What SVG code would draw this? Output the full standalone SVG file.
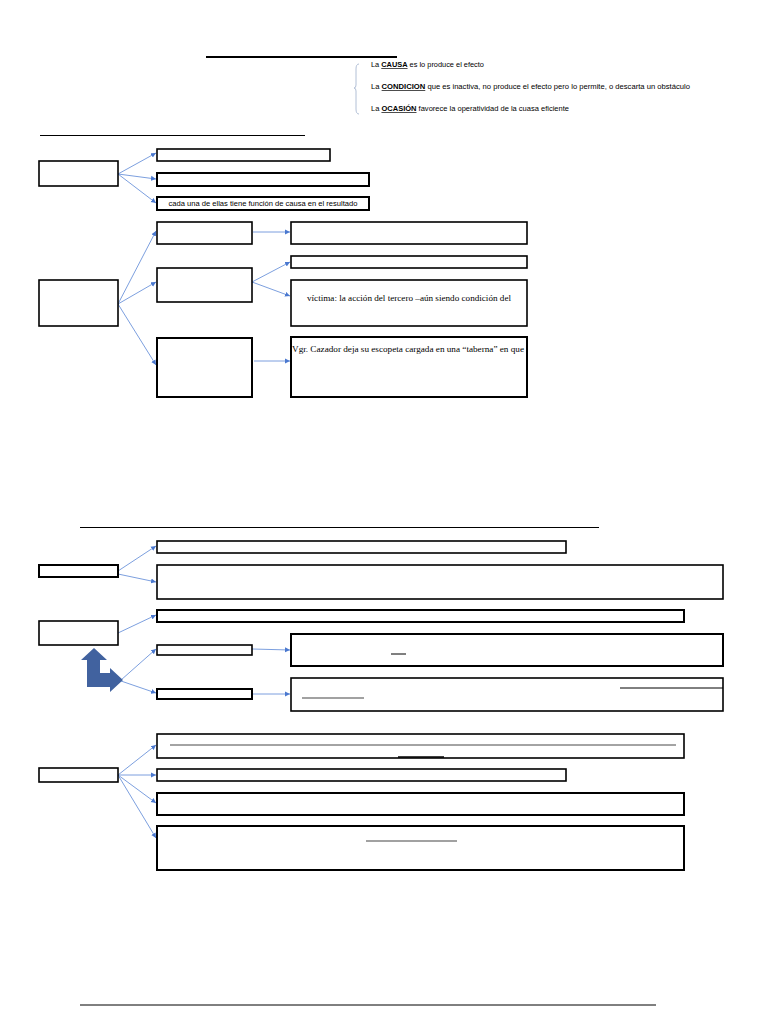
<svg xmlns="http://www.w3.org/2000/svg" width="768" height="1024" viewBox="0 0 768 1024">
<style>
.bx{fill:#fff;stroke:#000;stroke-width:1.6}
.bk{fill:#fff;stroke:#000;stroke-width:2}
.rule{stroke:#000;stroke-width:1}
.cn{stroke:#5b87d6;stroke-width:0.8;fill:none;marker-end:url(#ah)}
.sm{font-family:"Liberation Sans",Arial,sans-serif;font-size:7px;fill:#000}
.sf{font-family:"Liberation Serif","Times New Roman",serif;font-size:9px;fill:#000}
.u{font-weight:bold;text-decoration:underline}
</style>
<defs>
<marker id="ah" markerWidth="6" markerHeight="6" refX="5" refY="3" orient="auto" markerUnits="userSpaceOnUse">
<path d="M0,0.5 L5,3 L0,5.5 Z" fill="#4a78cf"/>
</marker>
</defs>
<rect width="768" height="1024" fill="#fff"/>

<g id="header">
<line x1="206" y1="57" x2="397" y2="57" stroke="#000" stroke-width="2"/>
<path d="M359,64 Q356,64 356,69 L356,85 Q356,88 354,88 Q356,88 356,91 L356,109 Q356,114 359,114" fill="none" stroke="#9fb0cc" stroke-width="0.8"/>
<text class="sm" x="371" y="67" textLength="113" lengthAdjust="spacingAndGlyphs">La <tspan class="u">CAUSA</tspan> es lo produce el efecto</text>
<text class="sm" x="371" y="89" textLength="319" lengthAdjust="spacingAndGlyphs">La <tspan class="u">CONDICION</tspan> que es inactiva, no produce el efecto pero lo permite, o descarta un obstáculo</text>
<text class="sm" x="371" y="111" textLength="198" lengthAdjust="spacingAndGlyphs">La <tspan class="u">OCASIÓN</tspan> favorece la operatividad de la cuasa eficiente</text>
</g>

<line class="rule" x1="40" y1="135.5" x2="305" y2="135.5"/>
<line class="rule" x1="80" y1="527.5" x2="599" y2="527.5"/>
<line class="rule" x1="80" y1="1005" x2="656" y2="1005" stroke-width="2"/>

<g id="connectors">
<line class="cn" x1="118" y1="174" x2="156" y2="153"/>
<line class="cn" x1="118" y1="174" x2="156" y2="179"/>
<line class="cn" x1="118" y1="174" x2="156" y2="203"/>

<line class="cn" x1="118" y1="304" x2="156" y2="231"/>
<line class="cn" x1="118" y1="304" x2="156" y2="282"/>
<line class="cn" x1="118" y1="304" x2="156" y2="365"/>
<line class="cn" x1="253" y1="232" x2="290" y2="232"/>
<line class="cn" x1="252" y1="282" x2="290" y2="262"/>
<line class="cn" x1="252" y1="282" x2="290" y2="296"/>
<line class="cn" x1="254" y1="361" x2="290" y2="361"/>

<line class="cn" x1="118" y1="571" x2="156" y2="546"/>
<line class="cn" x1="118" y1="574" x2="156" y2="582"/>
<line class="cn" x1="118" y1="633" x2="156" y2="615"/>
<line class="cn" x1="121" y1="680" x2="156" y2="649"/>
<line class="cn" x1="121" y1="681" x2="156" y2="693"/>
<line class="cn" x1="252" y1="649" x2="290" y2="650"/>
<line class="cn" x1="252" y1="694" x2="290" y2="694"/>

<line class="cn" x1="118" y1="775" x2="156" y2="745"/>
<line class="cn" x1="118" y1="775" x2="156" y2="775"/>
<line class="cn" x1="118" y1="775" x2="156" y2="803"/>
<line class="cn" x1="118" y1="775" x2="156" y2="838"/>
</g>

<g id="A"><rect class="bx" x="39" y="161" width="79" height="25"/></g>
<g id="B1"><rect class="bx" x="157" y="149" width="173" height="12"/></g>
<g id="B2"><rect class="bk" x="157" y="173" width="212" height="13"/></g>
<g id="B3"><rect class="bk" x="157" y="197" width="212" height="13"/>
<text class="sm" x="263" y="206" text-anchor="middle" textLength="189" lengthAdjust="spacingAndGlyphs">cada una de ellas tiene función de causa en el resultado</text></g>

<g id="C"><rect class="bx" x="39" y="280" width="79" height="46"/></g>
<g id="D1"><rect class="bx" x="157" y="222" width="95" height="22"/></g>
<g id="D2"><rect class="bx" x="157" y="268" width="95" height="34"/></g>
<g id="D3"><rect class="bk" x="157" y="338" width="95" height="59"/></g>
<g id="E1"><rect class="bx" x="291" y="222" width="236" height="22"/></g>
<g id="E2"><rect class="bx" x="291" y="256" width="236" height="12"/></g>
<g id="E3"><rect class="bx" x="291" y="280" width="236" height="46"/>
<text class="sf" x="307" y="301" textLength="204" lengthAdjust="spacingAndGlyphs">víctima: la acción del tercero –aún siendo condición del</text></g>
<g id="E4"><rect class="bk" x="291" y="337" width="236" height="60"/>
<text class="sf" x="292" y="352" textLength="232" lengthAdjust="spacingAndGlyphs">Vgr. Cazador deja su escopeta cargada en una “taberna” en que</text></g>

<g id="F1"><rect class="bk" x="39" y="565" width="79" height="12"/></g>
<g id="G1"><rect class="bx" x="157" y="541" width="409" height="12"/></g>
<g id="G2"><rect class="bx" x="157" y="565" width="566" height="34"/></g>
<g id="F2"><rect class="bx" x="39" y="621" width="79" height="24"/></g>
<g id="G3"><rect class="bk" x="157" y="610" width="527" height="12"/></g>
<g id="H1"><rect class="bx" x="157" y="645" width="95" height="10"/></g>
<g id="I1"><rect class="bk" x="291" y="634" width="432" height="32"/>
<line x1="391" y1="654" x2="406" y2="654" stroke="#000" stroke-width="1"/></g>
<g id="H2"><rect class="bk" x="157" y="689" width="95" height="10"/></g>
<g id="I2"><rect class="bx" x="291" y="678" width="432" height="33"/>
<line x1="620" y1="688" x2="723" y2="688" stroke="#000" stroke-width="1"/>
<line x1="302" y1="698" x2="364" y2="698" stroke="#444" stroke-width="1.2"/></g>

<g id="bentArrow">
<path d="M94,648 L107,660 L100,660 L100,673 L110,673 L110,668 L123,680 L110,692 L110,687 L87,687 L87,660 L81,660 Z" fill="#41629f"/>
</g>

<g id="J"><rect class="bx" x="39" y="768" width="79" height="14"/></g>
<g id="K1"><rect class="bx" x="157" y="734" width="527" height="24"/>
<line x1="170" y1="745" x2="676" y2="745" stroke="#333" stroke-width="0.9"/>
<line x1="398" y1="757" x2="444" y2="757" stroke="#000" stroke-width="1.5"/></g>
<g id="K2"><rect class="bx" x="157" y="769" width="409" height="12"/></g>
<g id="K3"><rect class="bk" x="157" y="793" width="527" height="22"/></g>
<g id="K4"><rect class="bk" x="157" y="826" width="527" height="44"/>
<line x1="366" y1="841" x2="457" y2="841" stroke="#444" stroke-width="1.2"/></g>
</svg>
